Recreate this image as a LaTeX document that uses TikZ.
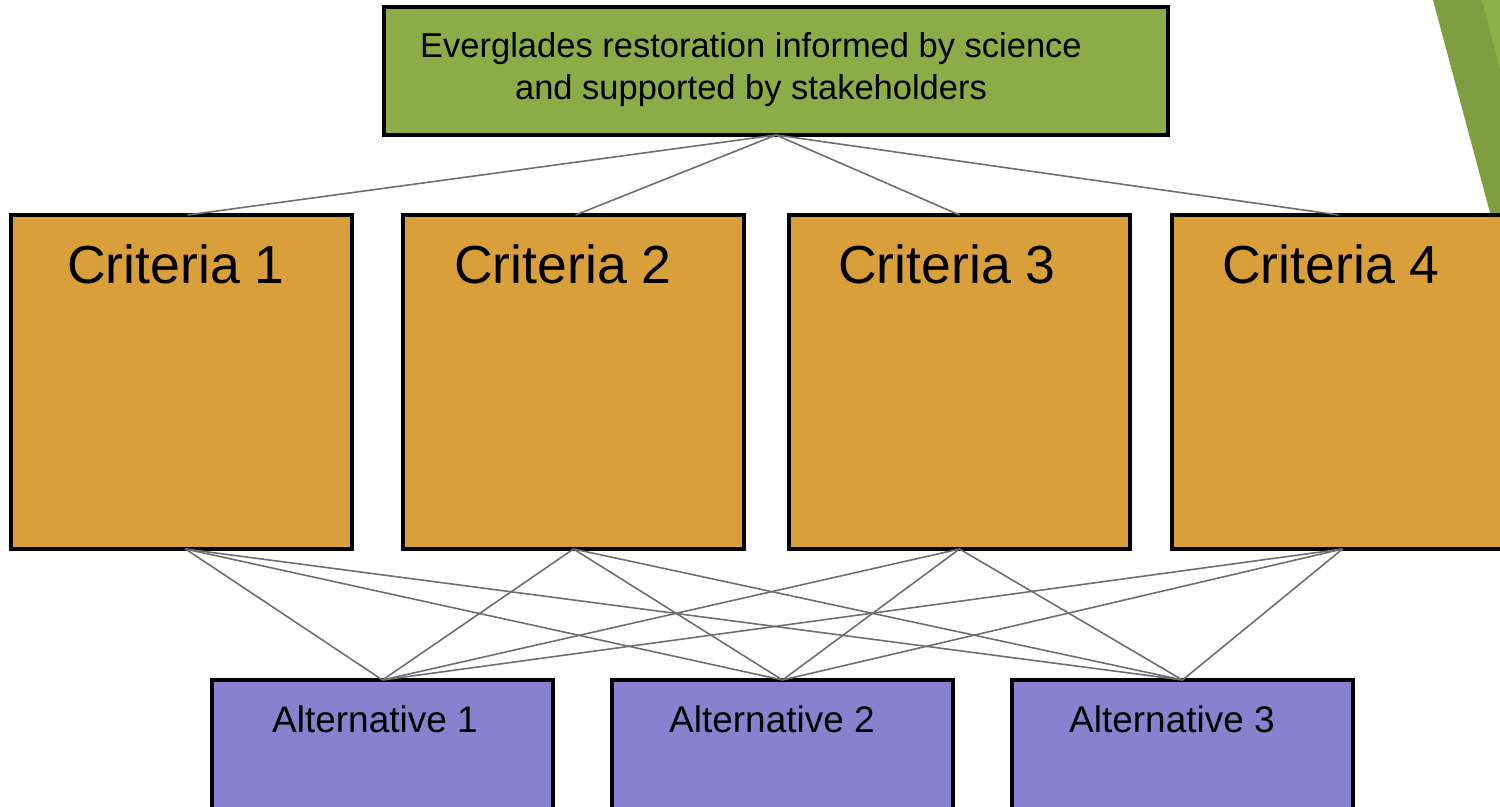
\documentclass[tikz,border=0pt]{standalone}
\usepackage{fontspec}
\setmainfont{Liberation Sans}
\definecolor{goalgreen}{HTML}{8BAC46}
\definecolor{critorange}{HTML}{D89F3A}
\definecolor{altpurple}{HTML}{8980CE}
\definecolor{tridark}{HTML}{7F9E3F}
\definecolor{trilight}{HTML}{8DB04A}
\definecolor{linegray}{HTML}{6E6E6E}
\begin{document}
\begin{tikzpicture}[x=0.5pt,y=-0.5pt,
  box/.style={draw=black,line width=1.9pt,inner sep=0pt,outer sep=0pt,anchor=north west},
  goalbox/.style={box,fill=goalgreen,minimum width=392pt,minimum height=64pt},
  critbox/.style={box,fill=critorange,minimum width=170.5pt,minimum height=167pt},
  altbox/.style={box,fill=altpurple,minimum width=170.5pt,minimum height=80pt},
  conn/.style={draw=linegray,line width=0.8pt},
  goaltext/.style={font=\fontsize{17.25pt}{20.6pt}\selectfont,align=center,inner sep=0pt},
  crittext/.style={font=\fontsize{26.8pt}{32pt}\selectfont,inner sep=0pt,anchor=base},
  alttext/.style={font=\fontsize{18.5pt}{22pt}\selectfont,inner sep=0pt,anchor=base}]
\clip (0,0) rectangle (1500,807);
% decorative triangles
\fill[tridark] (1433,0) -- (1500,0) -- (1500,250) -- cycle;
\fill[trilight] (1482,0) -- (1500,0) -- (1500,70) -- cycle;
% boxes
\node[goalbox] (goal) at (384,7) {};
\node[critbox] (c1) at (11,215) {};
\node[critbox] (c2) at (403,215) {};
\node[critbox] (c3) at (789,215) {};
\node[critbox] (c4) at (1172,215) {};
\node[altbox] (a1) at (212,680) {};
\node[altbox] (a2) at (612,680) {};
\node[altbox] (a3) at (1012,680) {};
% texts
\node[goaltext] (goaltxt) at (751,69.5) {Everglades restoration informed by science\\and supported by stakeholders};
\node[crittext] (c1t) at (176,284) {Criteria 1};
\node[crittext] (c2t) at (563,284) {Criteria 2};
\node[crittext] (c3t) at (947,284) {Criteria 3};
\node[crittext] (c4t) at (1331,284) {Criteria 4};
\node[alttext] (a1t) at (375,732) {Alternative 1};
\node[alttext] (a2t) at (772,732) {Alternative 2};
\node[alttext] (a3t) at (1172,732) {Alternative 3};
% connectors goal -> criteria
\draw[conn] (goal.south) -- ([xshift=3pt]c1.north);
\draw[conn] (goal.south) -- ([xshift=1pt]c2.north);
\draw[conn] (goal.south) -- (c3.north);
\draw[conn] (goal.south) -- ([xshift=-2pt]c4.north);
% connectors criteria -> alternatives
\foreach \c/\s in {c1/2pt,c2/0pt,c3/0pt,c4/0pt}{
  \foreach \a in {a1,a2,a3}{
    \draw[conn] ([xshift=\s]\c.south) -- (\a.north);
  }
}
\end{tikzpicture}
\end{document}
